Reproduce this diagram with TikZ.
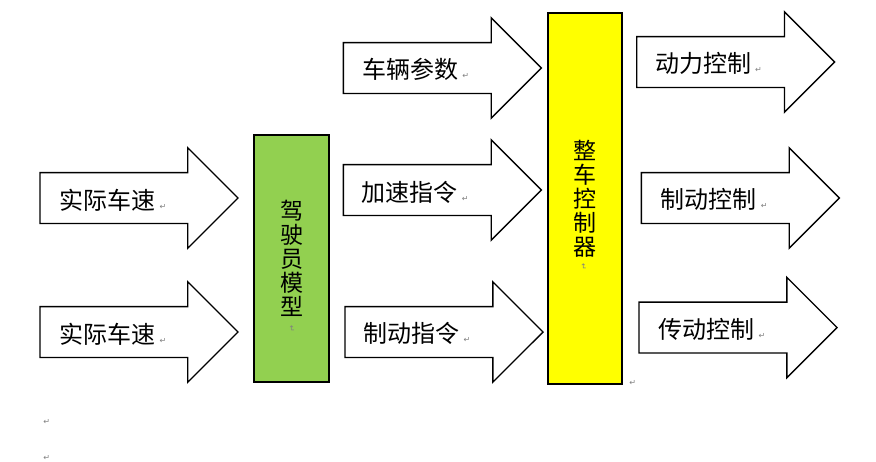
\documentclass[tikz,border=0pt]{standalone}
\usepackage{fontspec}
\setmainfont{Noto Sans CJK SC}
\newfontfamily\markfont{DejaVu Sans}
\usetikzlibrary{shapes.arrows}
\definecolor{drivergreen}{HTML}{92D050}
\definecolor{vcuyellow}{HTML}{FFFF00}
\definecolor{markgray}{HTML}{808080}
\newcommand{\pmark}{\,{\markfont\fontsize{8}{8}\selectfont\textcolor{markgray}{↵}}}
\begin{document}
\begin{tikzpicture}[x=1pt,y=-1pt,
    bigarrow/.style={draw,line width=1.4pt,fill=white,shape=single arrow,
      single arrow tip angle=90,single arrow head extend=24.75pt,
      minimum height=198pt,inner ysep=14.25pt,inner xsep=0pt,
      text height=16pt,text depth=5pt,anchor=tail},
    arrowtext/.style={anchor=base west,inner sep=0pt,
      font=\fontsize{24}{24}\selectfont},
    ctrlbox/.style={draw,line width=2pt,inner sep=0pt,minimum width=74.6pt,
      align=center,font=\fontsize{23}{24}\selectfont},
    markcell/.style={inner sep=0pt,font=\markfont\fontsize{8}{8}\selectfont,
      text=markgray}]
  \useasboundingbox (0,0) rectangle (876,461);
  % boxes
  \node[ctrlbox,fill=drivergreen,minimum height=247.6pt] (driver)
    at (291.7,258.5) {驾\\驶\\员\\模\\型};
  \node[ctrlbox,fill=vcuyellow,minimum height=371.3pt] (vcu)
    at (585,198.3) {整\\车\\控\\制\\器};
  % input arrows
  \node[bigarrow] (speedA) at (39.3,198) {};
  \node[bigarrow] (speedB) at (39.3,332) {};
  \node[bigarrow] (params) at (342.7,68) {};
  \node[bigarrow] (accel) at (342.7,190) {};
  \node[bigarrow] (brake) at (344.3,332) {};
  % output arrows
  \node[bigarrow] (power) at (636,62) {};
  \node[bigarrow] (brakectl) at (640.7,198) {};
  \node[bigarrow] (trans) at (638.3,327.5) {};
  % arrow texts
  \node[arrowtext] (speedAtext) at ([xshift=20pt,yshift=-11pt]speedA.tail) {实际车速\pmark};
  \node[arrowtext] (speedBtext) at ([xshift=20pt,yshift=-11pt]speedB.tail) {实际车速\pmark};
  \node[arrowtext] (paramstext) at ([xshift=19.5pt,yshift=-10pt]params.tail) {车辆参数\pmark};
  \node[arrowtext] (acceltext) at ([xshift=19pt,yshift=-11pt]accel.tail) {加速指令\pmark};
  \node[arrowtext] (braketext) at ([xshift=19pt,yshift=-10pt]brake.tail) {制动指令\pmark};
  \node[arrowtext] (powertext) at ([xshift=19pt,yshift=-10.5pt]power.tail) {动力控制\pmark};
  \node[arrowtext] (brakectltext) at ([xshift=20pt,yshift=-10.5pt]brakectl.tail) {制动控制\pmark};
  \node[arrowtext] (transtext) at ([xshift=20pt,yshift=-10.5pt]trans.tail) {传动控制\pmark};
  % paragraph marks
  \node[markcell,rotate=-90] (drivermark) at (291.7,329) {↵};
  \node[markcell,rotate=-90] (vcumark) at (583.3,267.3) {↵};
  \node[markcell] (vcuend) at (632.7,383.3) {↵};
  \node[markcell] (lineA) at (46.7,421.7) {↵};
  \node[markcell] (lineB) at (46.7,458.3) {↵};
\end{tikzpicture}
\end{document}
